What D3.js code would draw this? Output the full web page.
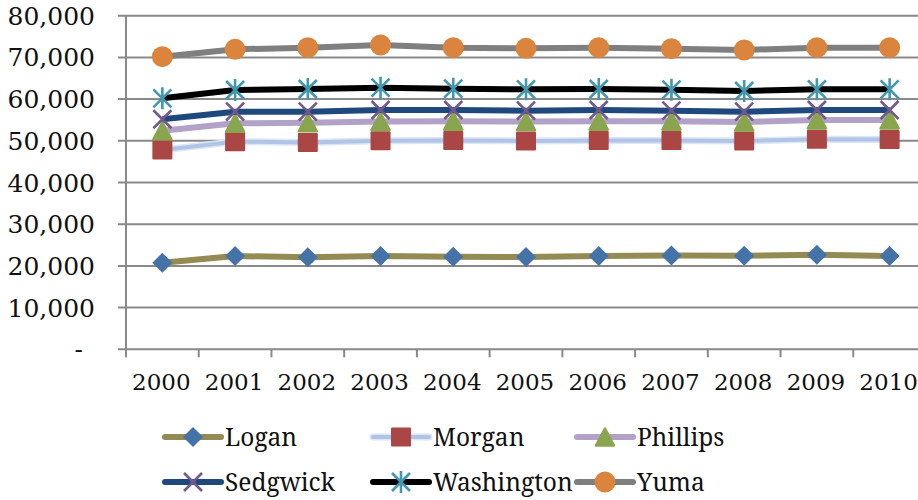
<!DOCTYPE html>
<html>
<head>
<meta charset="utf-8">
<script src="https://cdn.jsdelivr.net/npm/d3@7/dist/d3.min.js"></script>
<style>
  html, body { margin: 0; padding: 0; background: #fff; }
  svg { display: block; }
</style>
</head>
<body>
<svg id="chart" width="918" height="500"></svg>
<script>
// Population by county, 2000-2010 (stacked line chart)
const years = ["2000", "2001", "2002", "2003", "2004", "2005", "2006", "2007", "2008", "2009", "2010"];
const counties = ["Logan", "Morgan", "Phillips", "Sedgwick", "Washington", "Yuma"];

const logan      = [20770, 22370, 22060, 22370, 22200, 22130, 22370, 22500, 22450, 22690, 22370];
const morgan     = [27030, 27430, 27540, 27630, 27900, 27820, 27730, 27600, 27500, 27710, 27930];
const phillips   = [4600, 4400, 4700, 4600, 4600, 4650, 4600, 4600, 4550, 4600, 4700];
const sedgwick   = [2760, 2780, 2680, 2790, 2690, 2620, 2690, 2520, 2480, 2390, 2390];
const washington = [5030, 5200, 5440, 5350, 5110, 5130, 5030, 5040, 4960, 4960, 4960];
const yuma       = [9980, 9760, 9910, 10230, 9830, 9830, 9910, 9840, 9840, 9980, 9980];

const yTickValues = [0, 10000, 20000, 30000, 40000, 50000, 60000, 70000, 80000];

const seriesValues = { Logan: logan, Morgan: morgan, Phillips: phillips, Sedgwick: sedgwick, Washington: washington, Yuma: yuma };

// line colour / marker colour / marker shape per county
const styles = {
  Logan:      { line: "#948A54", marker: "#4572A7", shape: "diamond" },
  Morgan:     { line: "#B9CDE5", marker: "#AA4643", shape: "square", soft: true },
  Phillips:   { line: "#B3A2C7", marker: "#89A54E", shape: "triangle" },
  Sedgwick:   { line: "#1F497D", marker: "#71588F", shape: "x" },
  Washington: { line: "#000000", marker: "#4198AF", shape: "star" },
  Yuma:       { line: "#7F7F7F", marker: "#DB843D", shape: "circle" }
};

const axisFont = "\"DejaVu Serif\", serif";
const legendFont = "\"Noto Serif\", \"Liberation Serif\", serif";

const rows = years.map((yr, i) => {
  const r = { year: yr };
  counties.forEach(c => { r[c] = seriesValues[c][i]; });
  return r;
});
const stacked = d3.stack().keys(counties)(rows);

const svg = d3.select("#chart");
const plot = { left: 126, right: 926, top: 15.7, bottom: 349.3 };

const x = d3.scaleBand().domain(years).range([plot.left, plot.right]).padding(0);
const y = d3.scaleLinear().domain([0, 80000]).range([plot.bottom, plot.top]);
const cx = d => x(d) + x.bandwidth() / 2;

const gridColor = "#898989";

// horizontal gridlines with short outer ticks
svg.append("g").selectAll("line")
  .data(yTickValues)
  .join("line")
  .attr("x1", plot.left - 8)
  .attr("x2", plot.right)
  .attr("y1", d => y(d))
  .attr("y2", d => y(d))
  .attr("stroke", gridColor)
  .attr("stroke-width", 2);

// value axis line
svg.append("line")
  .attr("x1", plot.left).attr("x2", plot.left)
  .attr("y1", plot.top).attr("y2", plot.bottom + 8)
  .attr("stroke", gridColor).attr("stroke-width", 2);

// category tick marks between years
svg.append("g").selectAll("line")
  .data(years.slice(1))
  .join("line")
  .attr("x1", d => x(d)).attr("x2", d => x(d))
  .attr("y1", plot.bottom).attr("y2", plot.bottom + 8)
  .attr("stroke", gridColor).attr("stroke-width", 2);

// y tick labels
const fmt = d3.format(",");
svg.append("g").selectAll("text")
  .data(yTickValues)
  .join("text")
  .style("font-family", axisFont)
  .attr("font-size", 25)
  .attr("fill", "#111")
  .attr("text-anchor", "end")
  .attr("x", d => d === 0 ? 83 : 95)
  .attr("y", d => y(d))
  .attr("dy", "0.36em")
  .text(d => d === 0 ? "-" : fmt(d));

// x tick labels
svg.append("g").selectAll("text")
  .data(years)
  .join("text")
  .style("font-family", axisFont)
  .attr("font-size", 23)
  .attr("fill", "#111")
  .attr("text-anchor", "middle")
  .attr("x", d => cx(d) - 1)
  .attr("y", 390)
  .text(d => d);

// marker drawing
function drawMarker(g, shape, color) {
  switch (shape) {
    case "diamond":
      g.append("path").attr("d", "M0,-10L10,0L0,10L-10,0Z").attr("fill", color);
      break;
    case "square":
      g.append("rect").attr("x", -10).attr("y", -9.5).attr("width", 20).attr("height", 19)
        .attr("rx", 1).attr("fill", color);
      break;
    case "triangle":
      g.append("path").attr("d", "M0,-8.5L9,8.5L-9,8.5Z").attr("fill", color)
        .attr("stroke", color).attr("stroke-width", 2.5).attr("stroke-linejoin", "round");
      break;
    case "x":
      g.append("path").attr("d", "M-9,-9L9,9M-9,9L9,-9").attr("stroke", color)
        .attr("stroke-width", 2.6).attr("fill", "none");
      break;
    case "star":
      g.append("path").attr("d", "M-9,-9L9,9M-9,9L9,-9M0,-11L0,11").attr("stroke", color)
        .attr("stroke-width", 2.6).attr("fill", "none");
      break;
    case "circle":
      g.append("circle").attr("r", 10.5).attr("fill", color);
      break;
  }
}

const line = d3.line()
  .x(d => cx(d.data.year))
  .y(d => y(d[1]));

stacked.forEach(s => {
  const st = styles[s.key];
  const g = svg.append("g");
  if (st.soft) {
    g.append("path").attr("d", line(s)).attr("fill", "none")
      .attr("stroke", "#DCE6F4").attr("stroke-width", 7).attr("stroke-linejoin", "round");
    g.append("path").attr("d", line(s)).attr("fill", "none")
      .attr("stroke", "#AFC4E6").attr("stroke-width", 4).attr("stroke-linejoin", "round");
  } else {
    g.append("path").attr("d", line(s)).attr("fill", "none")
      .attr("stroke", st.line).attr("stroke-width", 6).attr("stroke-linejoin", "round");
  }
  s.forEach(d => {
    const m = g.append("g").attr("transform", `translate(${cx(d.data.year)},${y(d[1])})`);
    drawMarker(m, st.shape, st.marker);
  });
});

// legend: two rows of three entries
const legendCols = [165, 373, 577];
const legendRows = [437, 482];
const legend = svg.append("g");
counties.forEach((c, i) => {
  const st = styles[c];
  const lx = legendCols[i % 3];
  const ly = legendRows[Math.floor(i / 3)];
  const g = legend.append("g").attr("transform", `translate(${lx},${ly})`);
  if (st.soft) {
    g.append("line").attr("x1", 0).attr("x2", 56).attr("stroke", "#DCE6F4")
      .attr("stroke-width", 7).attr("stroke-linecap", "round");
    g.append("line").attr("x1", 0).attr("x2", 56).attr("stroke", "#AFC4E6")
      .attr("stroke-width", 4).attr("stroke-linecap", "round");
  } else {
    g.append("line").attr("x1", 0).attr("x2", 56).attr("stroke", st.line)
      .attr("stroke-width", 6).attr("stroke-linecap", "round");
  }
  drawMarker(g.append("g").attr("transform", "translate(28,0)"), st.shape, st.marker);
  g.append("text")
    .style("font-family", legendFont)
    .attr("font-size", 24.5)
    .attr("fill", "#111")
    .attr("x", 60).attr("y", 8.5)
    .text(c);
});
</script>
</body>
</html>
